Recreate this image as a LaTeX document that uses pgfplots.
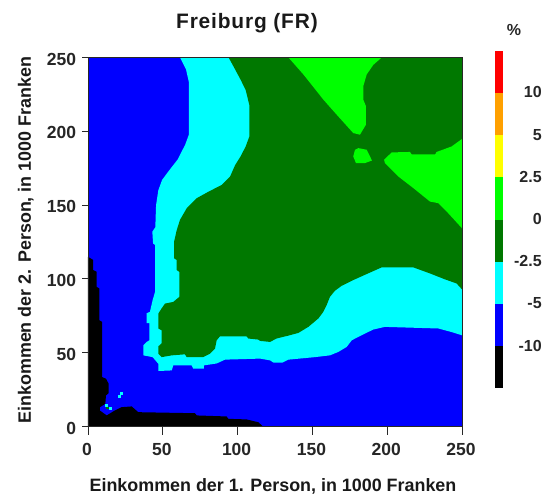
\documentclass[border=0pt]{standalone}
\usepackage{fontspec}
\setmainfont{Liberation Sans}
\usepackage{pgfplots}
\pgfplotsset{compat=1.18}
\definecolor{dgreen}{RGB}{0,120,0}
\definecolor{lgreen}{RGB}{0,255,0}
\definecolor{orng}{RGB}{255,160,0}
\definecolor{frame}{RGB}{40,40,40}
\definecolor{cyn}{RGB}{0,255,255}
\definecolor{blu}{RGB}{0,0,255}
\definecolor{yel}{RGB}{255,255,0}
\definecolor{rd}{RGB}{255,0,0}
\pgfplotsset{region/.style={fill=#1,draw=none,forget plot}}
\begin{document}
\begin{tikzpicture}
\useasboundingbox (0,0) rectangle (552pt,499pt);
\begin{axis}[
    at={(88pt,72.5pt)},anchor=south west,
    scale only axis,width=374pt,height=369pt,
    xmin=0,xmax=250,ymin=0,ymax=250,
    xtick={0,50,...,250},ytick={0,50,...,250},
    xtick pos=bottom,ytick pos=left,
    xtick style={frame,line width=0.9pt,/pgfplots/major tick length=8pt},
    ytick style={frame,line width=0.9pt,/pgfplots/major tick length=5.5pt},
    tick align=outside,
    axis line style={frame,line width=0.9pt},
    axis on top,
    /pgf/number format/assume math mode=true,
    tick label style={font=\fontsize{17.5}{20}\selectfont\bfseries,text=black!85},
    xticklabel style={yshift=-9pt,xshift=-1pt},
    yticklabel style={xshift=-4pt,yshift=-1.5pt},
    xlabel={Einkommen der 1. Person, in 1000 Franken},
    ylabel={Einkommen der 2. Person, in 1000 Franken},
    label style={font=\fontsize{17.9}{20}\selectfont\bfseries,text=black!90},
    xlabel style={at={(axis description cs:0.4947,-0.177)},anchor=base},
    ylabel style={at={(axis description cs:-0.153,0.505)},anchor=base,rotate=0},
    title={Freiburg (FR)},
    every axis title shift=0pt,
    title style={at={(axis description cs:0.425,1.0786)},anchor=base,font=\fontsize{20.9}{24}\selectfont\bfseries\addfontfeatures{LetterSpace=4},text=black!90},
]
% background
\addplot[region=blu] coordinates {(0,0)(250,0)(250,250)(0,250)} -- cycle;
% -5 .. -2.5 band
\addplot[region=cyn] coordinates {
(61.5,250)(65.5,242)(67.5,233)(67.5,198)(65,191)(60,181)(53.5,172.5)(49.5,167)
(47,160)(45.5,150)(45,135)(43,132)(43.5,124)(44.8,123)(44.8,91.2)(43.2,85.6)
(41.4,77.7)(39.2,76.7)(39.2,70)(41,70)(41,58.4)(39.2,57.3)(37,55)(37,48.2)
(43.2,47)(47,42.5)(47,37.6)(56,38)(57,41.4)(69.3,41.4)(70.4,39.2)(77.5,39.2)
(77.5,41.4)(86,42.7)(91.6,45.3)(115,46)(121.7,44.8)(124,43.3)(130,43.3)(134,45.3)
(151.7,47)(161.7,48.2)(167.3,50.5)(172.9,53.9)(176.3,58.4)(181.8,61.3)(190.7,65.7)
(198.5,67.5)(234.2,66.4)(243,64)(250,61.8)(250,250)} -- cycle;
% -2.5 .. 0
\addplot[region=dgreen] coordinates {
(94,250)(98.3,242)(102,235)(105.4,228)(107.8,218)(107.8,196.3)(105.4,189.7)(102,183)
(98.3,177)(95,169.4)(89.4,163.7)(80.4,159)(72.7,154.7)(66,147.9)(61.5,140)(59.3,133)
(57.5,125)(57.5,114)(59.3,112.8)(59.3,106)(61,104.8)(61,87.8)(57,84.4)(51.5,83.3)
(49.2,80)(47,76.5)(47,66.4)(49.2,65.2)(49.2,56.3)(47,54.3)(47,49.4)(49.2,47)(56,48.2)
(64.8,48.9)(66,47)(77,47)(81.6,49.4)(84.9,52.8)(86,58.4)(88.2,61.1)(106,61.1)(107.2,59.6)
(113.8,58.9)(115,58)(121.7,57.3)(126,59.6)(134,61.6)(140.6,63.4)(147.3,67.5)(154,73.2)
(157.3,77.7)(159.5,82.2)(161.7,87.8)(165,91.9)(169.5,95.3)(177.3,99.2)(186.3,103.3)
(196.3,107.8)(217.5,107.8)(228.6,103.7)(238.6,99.7)(246.4,96.9)(250,92.9)(250,250)} -- cycle;
% 0 .. 2.5
\addplot[region=lgreen] coordinates {
(134,250)(144,238.5)(157.3,221.5)(166.2,211.3)(177.3,198.8)(181.8,197.7)(185.8,204.5)
(185.8,217)(184,221.5)(184,230.5)(186.3,238.5)(190.7,245)(196.3,250)} -- cycle;
\addplot[region=lgreen] coordinates {
(180.7,188.6)(186.3,187.5)(188.5,183)(189.8,180.2)(185.2,178.5)(179.1,178.5)(177.3,183)(178.5,187.5)} -- cycle;
\addplot[region=lgreen] coordinates {
(197.9,180.7)(203,185.7)(215.2,186)(216.4,184.3)(232,184.3)(233,186)(243,189.7)(250,194.8)
(250,134.3)(240.8,144.5)(234.2,151.3)(228.6,152.4)(217.5,161.5)(207.4,169.4)(198.5,178.5)} -- cycle;
% below -10
\addplot[region=black] coordinates {
(0,115)(3.5,112.8)(3.5,106)(5.8,104.8)(5.8,94.6)(7.6,93.5)(7.6,72)(9.4,70.9)(9.4,33.5)
(12,32.4)(13.8,29)(13.8,22.6)(12,21)(11.6,15.4)(8,13.1)(8,10.8)(12.5,7.5)(18,10.9)
(22.5,13.1)(29.2,13.6)(33.6,9.7)(71.5,9)(72.7,7.5)(92.7,6.8)(93.8,5.2)(106,4.8)
(113.8,2.9)(117,0)(0,0)} -- cycle;
% isolated cells near the origin
\addplot[only marks,color=cyn,mark=square*,mark size=1pt,forget plot] coordinates {
(22.5,22.6)(20.7,20.4)(12.5,14.5)(14.7,12.4)};
\addplot[only marks,color=dgreen,mark=square*,mark size=0.8pt,forget plot] coordinates {(12.9,12.7)};
\end{axis}
% colour key
\begin{axis}[
    at={(494.7pt,110.7pt)},anchor=south west,
    scale only axis,width=8pt,height=337.6pt,
    xmin=0,xmax=1,ymin=0,ymax=8,
    axis line style={draw=none},
    xtick=\empty,
    ytick={1,...,7},
    yticklabels={-10,-5,-2.5,0,2.5,5,10},
    ytick pos=right,yticklabel pos=right,
    major tick length=0pt,
    clip=false,
    /pgf/number format/assume math mode=true,
    yticklabel style={anchor=east,xshift=42.5pt,yshift=0.5pt,font=\fontsize{16}{18}\selectfont\bfseries,text=black!85},
]
\addplot[region=black] coordinates {(0,0)(1,0)(1,1)(0,1)} -- cycle;
\addplot[region=blu] coordinates {(0,1)(1,1)(1,2)(0,2)} -- cycle;
\addplot[region=cyn] coordinates {(0,2)(1,2)(1,3)(0,3)} -- cycle;
\addplot[region=dgreen] coordinates {(0,3)(1,3)(1,4)(0,4)} -- cycle;
\addplot[region=lgreen] coordinates {(0,4)(1,4)(1,5)(0,5)} -- cycle;
\addplot[region=yel] coordinates {(0,5)(1,5)(1,6)(0,6)} -- cycle;
\addplot[region=orng] coordinates {(0,6)(1,6)(1,7)(0,7)} -- cycle;
\addplot[region=rd] coordinates {(0,7)(1,7)(1,8)(0,8)} -- cycle;
\node[font=\fontsize{16}{18}\selectfont\bfseries,text=black!85] at (axis description cs:2.4,1.06) {\%};
\end{axis}
\end{tikzpicture}
\end{document}
